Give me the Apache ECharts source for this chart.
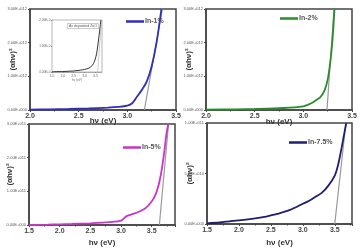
<!DOCTYPE html>
<html>
<head>
<meta charset="utf-8">
<script src="https://cdn.jsdelivr.net/npm/echarts@6/dist/echarts.min.js"></script>
<style>
  html, body { margin: 0; padding: 0; background: #fff; }
  #chart { width: 361px; height: 252px; }
</style>
</head>
<body>
<div id="chart"></div>
<script>
// In-1% (top left)
var e1 = [2.0, 2.2, 2.4, 2.6, 2.8, 2.9, 3.0, 3.05, 3.1, 3.15, 3.2, 3.25, 3.3, 3.35];
var a1 = [0.01e12, 0.02e12, 0.03e12, 0.045e12, 0.07e12, 0.09e12, 0.13e12, 0.2e12, 0.4e12, 0.6e12, 0.85e12, 1.3e12, 2.0e12, 3.0e12];
var fit1 = [[3.175, 0], [3.36, 3.0e12]];
// In-2% (top right)
var e2 = [2.0, 2.3, 2.5, 2.8, 3.0, 3.05, 3.1, 3.15, 3.18, 3.22, 3.25, 3.28, 3.3, 3.32];
var a2 = [0.01e12, 0.02e12, 0.03e12, 0.06e12, 0.11e12, 0.16e12, 0.23e12, 0.33e12, 0.4e12, 0.6e12, 0.9e12, 1.5e12, 2.1e12, 3.0e12];
var fit2 = [[3.243, 0], [3.315, 3.0e12]];
// In-5% (bottom left)
var e3 = [1.5, 1.8, 2.0, 2.2, 2.5, 2.7, 2.9, 3.0, 3.05, 3.1, 3.2, 3.3, 3.4, 3.5, 3.55, 3.6, 3.65, 3.7, 3.74, 3.77];
var a3 = [0.0, 0.01e11, 0.02e11, 0.03e11, 0.05e11, 0.07e11, 0.1e11, 0.13e11, 0.2e11, 0.27e11, 0.33e11, 0.4e11, 0.5e11, 0.7e11, 0.85e11, 1.1e11, 1.5e11, 2.1e11, 2.7e11, 3.0e11];
var fit3 = [[3.625, 0], [3.775, 3.0e11]];
// In-7.5% (bottom right)
var e4 = [1.5, 1.7, 1.85, 1.9, 2.0, 2.2, 2.4, 2.5, 2.6, 2.8, 3.0, 3.1, 3.2, 3.3, 3.4, 3.5, 3.55, 3.6, 3.65, 3.68];
var a4 = [0.007e11, 0.015e11, 0.025e11, 0.03e11, 0.035e11, 0.05e11, 0.07e11, 0.085e11, 0.1e11, 0.14e11, 0.2e11, 0.23e11, 0.27e11, 0.31e11, 0.38e11, 0.48e11, 0.58e11, 0.73e11, 0.9e11, 1.0e11];
var fit4 = [[3.5, 0], [3.675, 1.0e11]];
// inset: as deposited ZnO
var e0 = [1.5, 2.0, 2.5, 2.8, 3.0, 3.2, 3.35, 3.45, 3.55, 3.65, 3.75];
var a0 = [0.01, 0.02, 0.04, 0.07, 0.1, 0.15, 0.25, 0.4, 0.7, 1.3, 2.0];

var names = ['In-1%', 'In-2%', 'In-5%', 'In-7.5%'];
var colors = ['#2f2fb8', '#2a8c2a', '#cc33cc', '#1e1e72'];

function pairs(xs, ys) {
    var out = [];
    for (var i = 0; i < xs.length; i++) out.push([xs[i], ys[i]]);
    return out;
}
//科学计数法标签 3.00E+012
function sci(v) {
    if (v === 0) return '0.00E+000';
    var s = v.toExponential(2).split('e');
    var ex = parseInt(s[1], 10);
    var sign = ex < 0 ? '-' : '+';
    var d = String(Math.abs(ex));
    while (d.length < 3) d = '0' + d;
    return s[0] + 'E' + sign + d;
}

var chart = echarts.init(document.getElementById('chart'));

var grids = [
    {left: 30, top: 9, width: 146, height: 101},
    {left: 206, top: 9, width: 146, height: 101},
    {left: 29, top: 124, width: 146, height: 101},
    {left: 207, top: 123, width: 145, height: 101},
    {left: 52, top: 20, width: 50, height: 52}
];
grids.forEach(function (g, i) {
    g.show = true;
    g.borderColor = i === 4 ? '#888' : '#444';
    g.borderWidth = i === 4 ? 0.6 : 1.5;
    g.backgroundColor = '#fff';
    g.z = i === 4 ? 5 : 0;
});

function xAx(i, min, max, gap) {
    return {
        type: 'value', gridIndex: i, min: min, max: max, interval: 0.5,
        name: 'hν (eV)', nameLocation: 'middle', nameGap: gap, nameMoveOverlap: false,
        nameTextStyle: {fontSize: 8, fontWeight: 'bold', color: '#333'},
        axisLine: {lineStyle: {color: '#444', width: 1.5}},
        axisTick: {length: 2, lineStyle: {color: '#444'}},
        minorTick: {show: true, splitNumber: 2, length: 1.5, lineStyle: {color: '#444'}},
        axisLabel: {fontSize: 7, fontWeight: 'bold', color: '#444', margin: 3, showMaxLabel: max % 0.5 === 0,
            formatter: function (v) { return v.toFixed(1); }},
        splitLine: {show: false}
    };
}
function yAx(i, max, step, gap) {
    return {
        type: 'value', gridIndex: i, min: 0, max: max, interval: step,
        name: '(αhν)²', nameLocation: 'middle', nameGap: gap, nameRotate: 90, nameMoveOverlap: false,
        nameTextStyle: {fontSize: 8, fontWeight: 'bold', color: '#333'},
        axisLine: {show: true, lineStyle: {color: '#444', width: 1.5}},
        axisTick: {length: 2, lineStyle: {color: '#444'}},
        axisLabel: {fontSize: 4, color: '#555', margin: 3, formatter: sci},
        splitLine: {show: false}
    };
}

var xAxes = [xAx(0, 2.0, 3.5, 7), xAx(1, 2.0, 3.5, 8), xAx(2, 1.5, 3.88, 14), xAx(3, 1.5, 3.77, 15)];
var yAxes = [yAx(0, 3e12, 1e12, 13), yAx(1, 3e12, 1e12, 13), yAx(2, 3e11, 1e11, 15), yAx(3, 1e11, 5e10, 13)];
// 内嵌小图坐标轴
xAxes.push({
    type: 'value', gridIndex: 4, min: 1.5, max: 3.8, interval: 0.5,
    name: 'hν (eV)', nameLocation: 'middle', nameGap: 4,
    nameTextStyle: {fontSize: 3, color: '#666'},
    axisLine: {lineStyle: {color: '#888', width: 0.6}},
    axisTick: {length: 1, lineStyle: {color: '#888'}},
    axisLabel: {fontSize: 3.5, color: '#666', margin: 2, showMaxLabel: false,
        formatter: function (v) { return v.toFixed(1); }},
    splitLine: {show: false}
});
yAxes.push({
    type: 'value', gridIndex: 4, min: 0, max: 2, interval: 1,
    axisLine: {show: true, lineStyle: {color: '#888', width: 0.6}},
    axisTick: {length: 1, lineStyle: {color: '#888'}},
    axisLabel: {fontSize: 3, color: '#666', margin: 1.5,
        formatter: function (v) { return v.toFixed(2) + 'E+0'; }},
    splitLine: {show: false}
});

var series = [];
var curves = [[e1, a1], [e2, a2], [e3, a3], [e4, a4]];
var fits = [fit1, fit2, fit3, fit4];
for (var i = 0; i < 4; i++) {
    series.push({
        name: names[i] + '-fit', type: 'line', xAxisIndex: i, yAxisIndex: i,
        data: fits[i], symbol: 'none', silent: true,
        lineStyle: {color: '#999', width: 1.2}, z: 1
    });
    series.push({
        name: names[i], type: 'line', xAxisIndex: i, yAxisIndex: i,
        data: pairs(curves[i][0], curves[i][1]), symbol: 'none', smooth: 0.3,
        color: colors[i], lineStyle: {color: colors[i], width: 1.8}, z: 2
    });
}
series.push({
    name: 'ZnO', type: 'line', xAxisIndex: 4, yAxisIndex: 4,
    data: pairs(e0, a0), symbol: 'none', smooth: 0.3,
    lineStyle: {color: '#333', width: 1}, z: 6
});
series.push({
    name: 'ZnO-fit', type: 'line', xAxisIndex: 4, yAxisIndex: 4,
    data: [[3.6, 0], [3.78, 2.0]], symbol: 'none', silent: true,
    lineStyle: {color: '#aaa', width: 0.6}, z: 6
});

var legendPos = [[121, 13], [275, 10], [118, 139], [284, 134]];
var legends = legendPos.map(function (p, i) {
    return {
        data: [{name: names[i], icon: 'rect'}], left: p[0], top: p[1],
        itemWidth: 18, itemHeight: 2.5, itemGap: 2,
        textStyle: {fontSize: 7, fontWeight: 'bold', color: '#555', padding: [0, 0, 0, -4]},
        selectedMode: false
    };
});

chart.setOption({
    animation: false,
    grid: grids,
    xAxis: xAxes,
    yAxis: yAxes,
    legend: legends,
    title: {
        text: 'As deposited ZnO', left: 67, top: 23, padding: [1, 2],
        borderColor: '#999', borderWidth: 0.5, z: 7,
        textStyle: {fontSize: 3.5, fontWeight: 'normal', color: '#555'}
    },
    series: series
});
</script>
</body>
</html>
